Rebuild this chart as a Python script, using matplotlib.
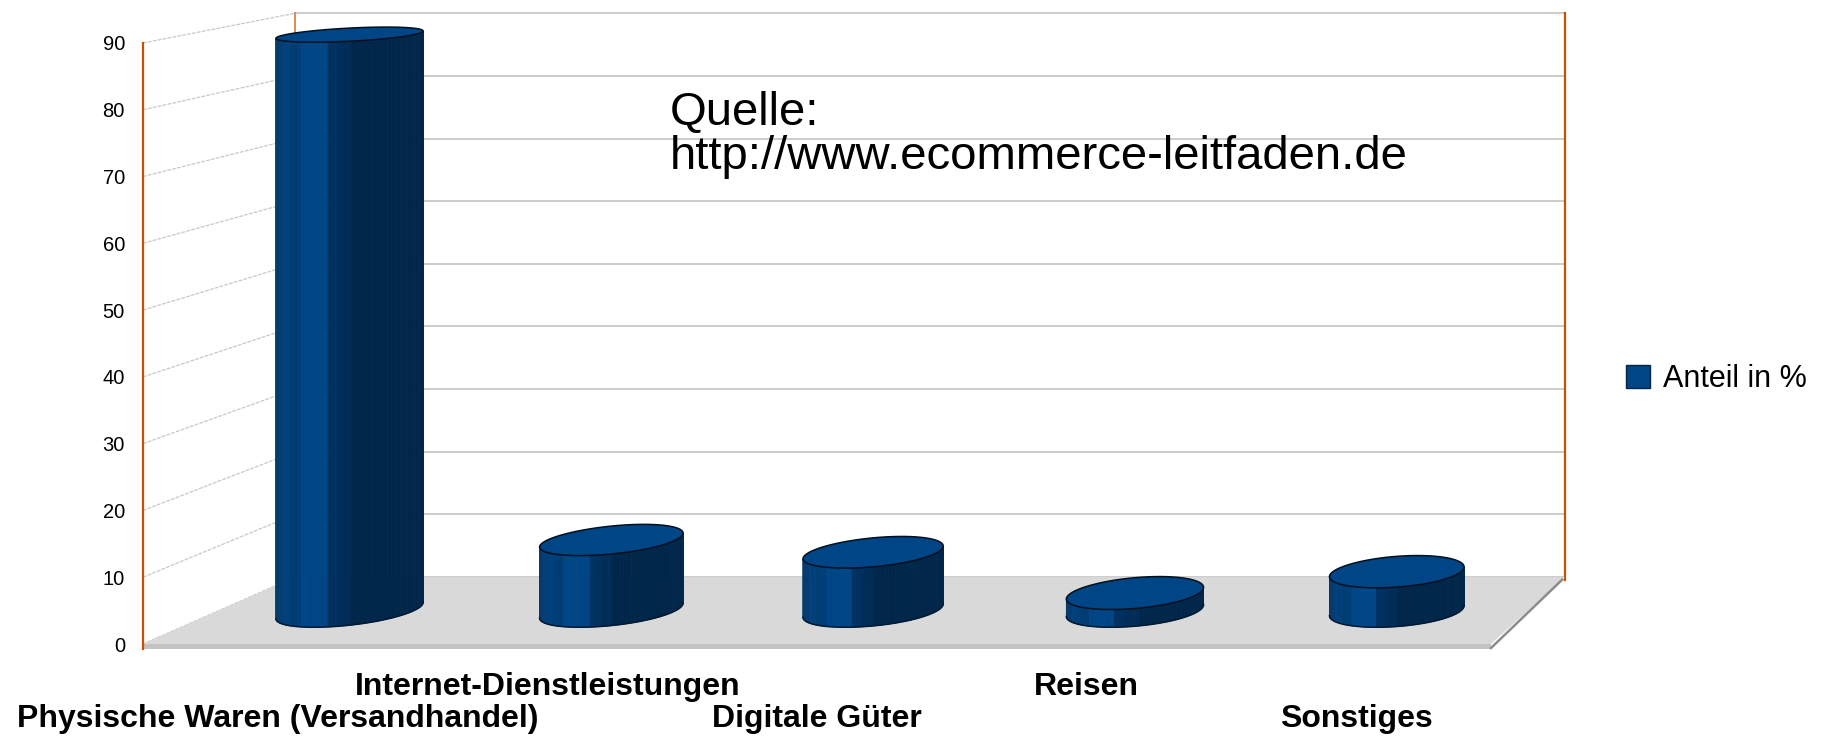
import matplotlib
matplotlib.use("Agg")
import matplotlib.pyplot as plt
import matplotlib.patches as mpatches
import numpy as np

categories = ["Physische Waren (Versandhandel)", "Internet-Dienstleistungen", "Digitale Güter", "Reisen", "Sonstiges"]
anteil = [89, 10.9, 9, 2.7, 6]
y_ticks = [0, 10, 20, 30, 40, 50, 60, 70, 80, 90]
series_name = "Anteil in %"
source_note = "Quelle:\nhttp://www.ecommerce-leitfaden.de"

W, H = 1827, 742
GRID = "#c8c8c8"
ORANGE = "#c85000"
TOP = "#004586"
# shades across the cylinder, left to right (right end of band as fraction of width)
shade_stops = [0.045, 0.10, 0.17, 0.35, 0.44, 0.52, 1.01]
shade_cols = ["#063b6e", "#00407a", "#003d75", "#004586", "#003060", "#002c58", "#00264a"]


def project(x, v, d):
    # d=0 is the front plane (the axes themselves), d=1 the back wall
    xb = 0.942 * x + 0.535
    vb = 0.938 * v + 10.03
    return x + (xb - x) * d, v + (vb - v) * d


def cylinder(ax, i, v, r=0.245, rd=0.25):
    t = np.linspace(0, 2 * np.pi, 121)
    xt, yt = project(i + r * np.cos(t), v, 0.5 + rd * np.sin(t))
    xb, yb = project(i + r * np.cos(t), 0, 0.5 + rd * np.sin(t))
    # visible side runs between the leftmost and rightmost points of the ellipse
    k_l, k_r = np.argmin(xb), np.argmax(xb)
    idx = np.arange(k_l, k_l + 1 + (k_r - k_l) % 120) % 120
    left, right = xb[k_l], xb[k_r]
    for a, b in zip(idx[:-1], idx[1:]):
        frac = ((xb[a] + xb[b]) / 2 - left) / (right - left)
        col = shade_cols[int(np.searchsorted(shade_stops, frac))]
        ax.fill([xb[a], xb[b], xt[b], xt[a]], [yb[a], yb[b], yt[b], yt[a]],
                facecolor=col, edgecolor=col, lw=0.6, clip_on=False, zorder=5 + i)
    ax.plot(xb[idx], yb[idx], color="#001a33", lw=1.1, clip_on=False, zorder=5 + i)
    ax.fill(xt, yt, facecolor=TOP, edgecolor="#00101f", lw=1.1, clip_on=False, zorder=5.5 + i)


plt.rcParams["font.family"] = ["Liberation Sans", "DejaVu Sans"]
fig = plt.figure(figsize=(W / 100, H / 100), dpi=100)
ax = fig.add_axes([143 / W, 1 - 644 / H, (1491 - 143) / W, (644 - 43) / H])
ax.set_xlim(-0.5, 4.5)
ax.set_ylim(0, 90)
for s in ax.spines.values():
    s.set_visible(False)

# walls
for v in y_ticks:
    x0, y0 = project(-0.5, v, 0)
    x1, y1 = project(-0.5, v, 1)
    x2, y2 = project(4.5, v, 1)
    ax.plot([x0, x1], [y0, y1], color=GRID, lw=0.9, ls=(0, (3, 1)), clip_on=False, zorder=1)
    ax.plot([x1, x2], [y1, y2], color=GRID, lw=1.3, clip_on=False, zorder=1)

# orange frame lines
ax.plot([-0.5, -0.5], [-0.7, 90], color=ORANGE, lw=1.6, clip_on=False, zorder=3)
bx, by0 = project(-0.5, 0, 1)
_, by1 = project(-0.5, 90, 1)
ax.plot([bx, bx], [by0, by1], color="#d98a5a", lw=1.4, clip_on=False, zorder=1)
rx, ry0 = project(4.5, 0, 1)
_, ry1 = project(4.5, 90, 1)
ax.plot([rx, rx], [ry0 - 0.5, ry1], color=ORANGE, lw=1.6, clip_on=False, zorder=1)

# floor
corners = [project(-0.5, 0, 0), project(4.5, 0, 0), project(4.5, 0, 1), project(-0.5, 0, 1)]
ax.fill(*zip(*corners), facecolor="#d9d9d9", edgecolor="none", clip_on=False, zorder=2)
ax.fill([-0.5, 4.5, 4.5, -0.5], [0, 0, -0.7, -0.7], facecolor="#c4c4c4", edgecolor="none", clip_on=False, zorder=2)
fx, fy = project(4.5, 0, 0)
ax.plot([fx, rx - 0.01], [fy - 0.6, ry0 - 0.4], color="#8c8c8c", lw=1.8, clip_on=False, zorder=3)

for i, v in enumerate(anteil):
    cylinder(ax, i, v)

ax.set_yticks(y_ticks)
ax.set_xticks(range(len(categories)))
ax.set_xticklabels(categories, fontweight="bold", fontsize=23)
ax.tick_params(axis="y", length=0, pad=13, labelsize=14.5)
ax.tick_params(axis="x", length=0)
for i, tick in enumerate(ax.xaxis.get_major_ticks()):
    tick.set_pad(43 if i % 2 == 0 else 20)

ax.text(670 / W, 1 - 135 / H, source_note, transform=fig.transFigure, fontsize=34,
        ha="left", va="center", linespacing=1.0, color="black")

patch = mpatches.Patch(facecolor=TOP, edgecolor="#00264a", linewidth=1, label=series_name)
fig.legend(handles=[patch], loc="center left", bbox_to_anchor=(1626 / W, 1 - 379 / H),
           frameon=False, fontsize=22, borderpad=0, borderaxespad=0,
           handlelength=0.8, handleheight=0.8, handletextpad=0.4)

fig.savefig("out.png", dpi=100)
